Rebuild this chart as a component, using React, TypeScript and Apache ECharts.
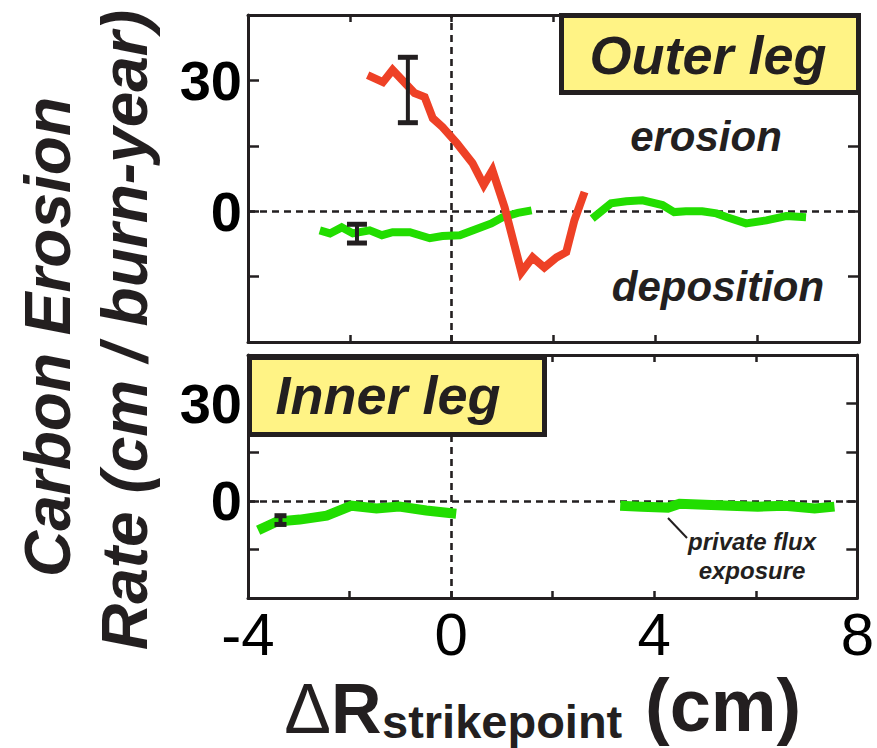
import React, { useEffect, useRef } from "react";
import * as echarts from "echarts";

// ---------- data (cm, cm/burn-year) ----------
const outerRedX = [-1.65, -1.35, -1.16, -0.73, -0.53, -0.37, -0.18, 0.1, 0.41, 0.63, 0.8, 1.04, 1.37, 1.59, 1.82, 2.06, 2.25, 2.41, 2.61];
const outerRedY = [31.2, 29.6, 32.4, 27.1, 26.2, 21.3, 19.3, 15.6, 11.0, 6.0, 9.4, 0.9, -14.0, -10.6, -12.9, -10.6, -9.4, -2.1, 4.4];

const outerGreenAX = [-2.59, -2.39, -2.16, -1.94, -1.61, -1.37, -1.16, -0.82, -0.43, -0.18, 0.16, 0.41, 0.78, 1.0, 1.3, 1.57];
const outerGreenAY = [-4.4, -5.1, -3.7, -5.1, -4.4, -5.5, -4.8, -4.8, -6.2, -5.7, -5.5, -4.4, -2.8, -1.4, -0.4, 0.2];
const outerGreenBX = [2.76, 3.13, 3.43, 3.75, 4.14, 4.37, 4.6, 4.92, 5.2, 5.41, 5.78, 6.18, 6.57, 6.96];
const outerGreenBY = [-1.7, 1.8, 2.3, 2.5, 1.4, -0.2, 0.0, 0.0, -0.5, -1.4, -2.8, -2.1, -1.1, -1.4];

const innerGreenAX = [-3.8, -3.43, -2.98, -2.45, -1.96, -1.47, -1.02, -0.49, 0.1];
const innerGreenAY = [-9.1, -6.4, -5.8, -4.6, -1.5, -2.4, -1.8, -3.0, -4.0];
const innerGreenBX = [3.33, 3.75, 4.27, 4.5, 5.0, 5.5, 6.04, 6.57, 7.16, 7.55];
const innerGreenBY = [-1.5, -1.8, -2.1, -0.9, -1.2, -1.5, -1.8, -1.5, -2.4, -1.8];

// error bars: [x, low, high]
const outerErrors = [
  [-0.86, 20.3, 35.3],
  [-1.86, -7.3, -3.0],
];
const innerErrors = [[-3.36, -7.3, -4.6]];

const xTickLabels = [-4, 0, 4, 8];
const yTickLabels = [0, 30];

// ---------- style ----------
const FONT = "'Liberation Sans', Arial, Helvetica, sans-serif";
const INK = "#231f20";
const RED = "#ee4126";
const GREEN = "#22dd00";
const YELLOW = "#fff385";

const zip = (xs: number[], ys: number[]) => xs.map((x, i) => [x, ys[i]]);

export default function App() {
  const ref = useRef<HTMLDivElement>(null);

  useEffect(() => {
    if (!ref.current) return;
    const chart = echarts.init(ref.current, null, { renderer: "svg" });

    const xAxis = (gridIndex: number, position: string, showLabels: boolean) => ({
      type: "value",
      gridIndex,
      position,
      min: -4,
      max: 8,
      interval: 2,
      axisLine: { show: true, onZero: false, lineStyle: { color: INK, width: 3 } },
      axisTick: { show: true, inside: true, length: 7, lineStyle: { color: INK, width: 2.5 } },
      axisLabel: showLabels
        ? {
            show: true,
            showMinLabel: true,
            showMaxLabel: true,
            margin: 6,
            color: "#000",
            fontFamily: FONT,
            fontSize: 60,
            fontWeight: "normal",
            formatter: (v: number) => (xTickLabels.includes(v) ? String(v) : ""),
          }
        : { show: false },
      splitLine: { show: false },
    });

    const yAxis = (gridIndex: number, position: string, showLabels: boolean) => ({
      type: "value",
      gridIndex,
      position,
      min: -30,
      max: 45,
      interval: 15,
      axisLine: { show: true, onZero: false, lineStyle: { color: INK, width: 3 } },
      axisTick: { show: true, inside: true, length: 11, lineStyle: { color: INK, width: 2.5 } },
      axisLabel: showLabels
        ? {
            show: true,
            margin: 6,
            color: "#000",
            fontFamily: FONT,
            fontSize: 56,
            fontWeight: "bold",
            formatter: (v: number) => (yTickLabels.includes(v) ? String(v) : ""),
          }
        : { show: false },
      splitLine: { show: false },
    });

    const lineSeries = (xi: number, yi: number, data: number[][], color: string, z: number, width: number) => ({
      type: "line",
      xAxisIndex: xi,
      yAxisIndex: yi,
      data,
      symbol: "none",
      showSymbol: false,
      silent: true,
      z,
      lineStyle: { color, width, cap: "butt", join: "miter" },
    });

    const errorSeries = (xi: number, yi: number, data: number[][], capHalf: number) => ({
      type: "custom",
      xAxisIndex: xi,
      yAxisIndex: yi,
      data,
      z: 10,
      silent: true,
      encode: { x: 0, y: [1, 2] },
      renderItem: (params: any, api: any) => {
        const x = api.value(0);
        const lo = api.coord([x, api.value(1)]);
        const hi = api.coord([x, api.value(2)]);
        const st = { stroke: INK, lineWidth: 4 };
        const cst = { stroke: INK, lineWidth: 5 };
        return {
          type: "group",
          children: [
            { type: "line", shape: { x1: lo[0], y1: lo[1], x2: hi[0], y2: hi[1] }, style: st },
            { type: "line", shape: { x1: lo[0] - capHalf, y1: lo[1], x2: lo[0] + capHalf, y2: lo[1] }, style: cst },
            { type: "line", shape: { x1: hi[0] - capHalf, y1: hi[1], x2: hi[0] + capHalf, y2: hi[1] }, style: cst },
          ],
        };
      },
    });

    const refLines = (xi: number, yi: number) => ({
      type: "line",
      xAxisIndex: xi,
      yAxisIndex: yi,
      data: [],
      silent: true,
      z: 1,
      markLine: {
        silent: true,
        z: 1,
        symbol: ["none", "none"],
        label: { show: false },
        lineStyle: { color: INK, width: 2.6, type: [7, 5] },
        data: [{ xAxis: 0 }, { yAxis: 0 }],
      },
    });

    const T = (
      text: string,
      x: number,
      y: number,
      fontSize: number,
      opts: any = {}
    ) => ({
      type: "text",
      x,
      y,
      z: 120,
      rotation: opts.rotation || 0,
      style: {
        text,
        fill: INK,
        fontFamily: FONT,
        fontSize,
        fontWeight: opts.weight || "bold",
        fontStyle: opts.style || "italic",
        align: opts.align || "center",
        textAlign: opts.align || "center",
        verticalAlign: "middle",
        textVerticalAlign: "middle",
        lineHeight: opts.lineHeight,
      },
    });

    const option: any = {
      animation: false,
      backgroundColor: "#ffffff",
      grid: [
        { left: 248, top: 15, width: 611, height: 327 },
        { left: 248, top: 355, width: 611, height: 243 },
      ],
      xAxis: [xAxis(0, "bottom", false), xAxis(0, "top", false), xAxis(1, "bottom", true), xAxis(1, "top", false)],
      yAxis: [yAxis(0, "left", true), yAxis(0, "right", false), yAxis(1, "left", true), yAxis(1, "right", false)],
      series: [
        refLines(0, 0),
        refLines(2, 2),
        lineSeries(0, 0, zip(outerGreenAX, outerGreenAY), GREEN, 3, 8),
        lineSeries(0, 0, zip(outerGreenBX, outerGreenBY), GREEN, 3, 8),
        lineSeries(0, 0, zip(outerRedX, outerRedY), RED, 4, 8),
        lineSeries(2, 2, zip(innerGreenAX, innerGreenAY), GREEN, 3, 10),
        lineSeries(2, 2, zip(innerGreenBX, innerGreenBY), GREEN, 3, 10),
        errorSeries(0, 0, outerErrors, 10),
        errorSeries(2, 2, innerErrors, 6),
      ],
      graphic: [
        // legend boxes
        {
          type: "rect",
          z: 110,
          shape: { x: 561.5, y: 15.5, width: 297, height: 77 },
          style: { fill: YELLOW, stroke: INK, lineWidth: 5 },
        },
        T("Outer leg", 708, 55, 54),
        {
          type: "rect",
          z: 110,
          shape: { x: 249.5, y: 357.5, width: 295, height: 77 },
          style: { fill: YELLOW, stroke: INK, lineWidth: 5 },
        },
        T("Inner leg", 388, 395, 54),
        // region annotations
        T("erosion", 706, 136, 42),
        T("deposition", 718, 286, 42),
        T("private flux\nexposure", 752, 556, 24, { lineHeight: 29 }),
        {
          type: "line",
          z: 110,
          shape: { x1: 668, y1: 518, x2: 687, y2: 538 },
          style: { stroke: INK, lineWidth: 2 },
        },
        // y axis title (two lines, reading bottom to top)
        T("Carbon Erosion", 48, 337, 64, { rotation: Math.PI / 2 }),
        T("Rate (cm / burn-year)", 125, 330, 64, { rotation: Math.PI / 2 }),
        // x axis title
        T("\u0394", 331, 709, 70, { weight: "normal", style: "normal", align: "right" }),
        T("R", 331, 709, 70, { style: "normal", align: "left" }),
        T("strikepoint", 382, 721, 47, { style: "normal", align: "left" }),
        T("(cm)", 645, 705, 74, { style: "normal", align: "left" }),
      ],
    };

    chart.setOption(option);
    return () => chart.dispose();
  }, []);

  return (
    <div
      ref={ref}
      style={{ position: "absolute", left: 0, top: 0, width: 877, height: 748, background: "#fff" }}
    />
  );
}
